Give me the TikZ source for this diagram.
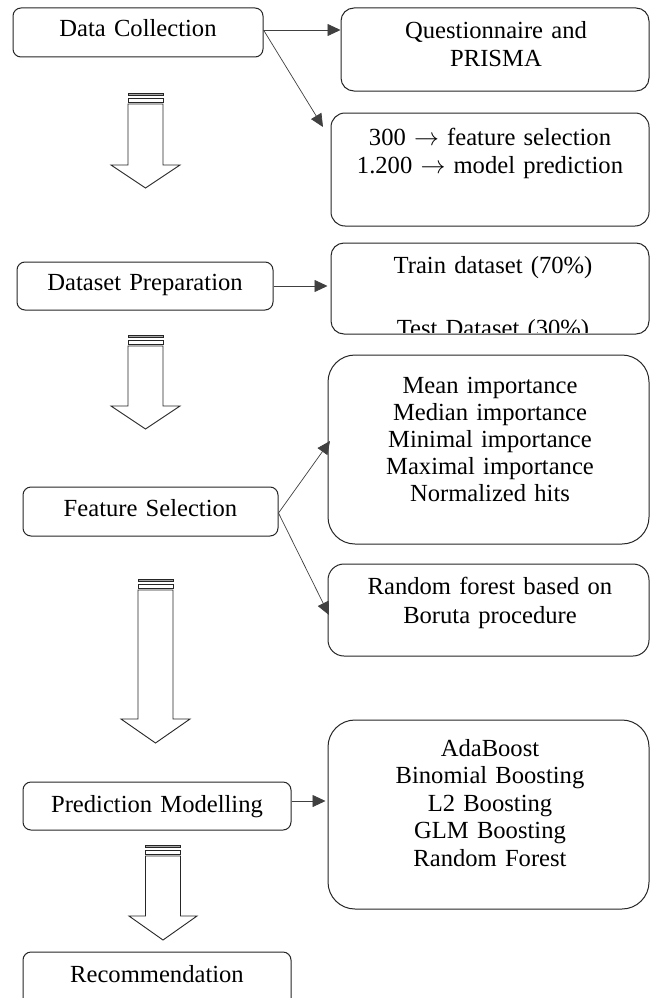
\documentclass[tikz,border=0pt]{standalone}
\usepackage{fontspec}
\setmainfont{Liberation Serif}
\usetikzlibrary{arrows.meta}
\tikzset{
  box/.style={draw=black!85, line width=1pt, fill=white, inner sep=0pt},
  txt/.style={anchor=base, align=center, inner sep=0pt, text width=#1,
              font=\fontsize{24.6}{27.4}\selectfont},
  txt/.default=310pt,
  conn/.style={draw=black!75, line width=0.7pt, -{Triangle[length=13pt,width=12pt]}},
  blk/.style={draw=black!85, line width=0.9pt, fill=white},
}
\newcommand\BlkArrow[5]{% cx, ytop, yhead, ytip, head half width
  \draw[blk, fill=black!35] (#1-17.5,#2) rectangle (#1+17.5,#2+2);
  \draw[blk] (#1-17.5,#2+5) rectangle (#1+17.5,#2+9);
  \draw[blk] (#1-17.5,#2+10.5) -- (#1-17.5,#3) -- (#1-#5,#3) -- (#1,#4)
     -- (#1+#5,#3) -- (#1+17.5,#3) -- (#1+17.5,#2+10.5) -- cycle;
}
\begin{document}
\begin{tikzpicture}[x=1pt,y=-1pt]
\clip (0,0) rectangle (650,998);
\fill[white] (0,0) rectangle (650,998);

% left column boxes
\node[box, rounded corners=8pt, minimum width=250pt, minimum height=49pt] (dc) at (138,32.5) {};
\node[box, rounded corners=8pt, minimum width=256pt, minimum height=48pt] (dp) at (145,286) {};
\node[box, rounded corners=8pt, minimum width=255pt, minimum height=49pt] (fs) at (150.5,511.5) {};
\node[box, rounded corners=8pt, minimum width=268pt, minimum height=48pt] (pm) at (157,806) {};
\node[box, rounded corners=8pt, minimum width=268pt, minimum height=58pt] (rec) at (157,981) {};

% right column boxes
\node[box, rounded corners=13pt, minimum width=308pt, minimum height=83pt] (q) at (495,49.5) {};
\node[box, rounded corners=14pt, minimum width=318pt, minimum height=113pt] (n300) at (490,169.5) {};
\node[box, rounded corners=13pt, minimum width=318pt, minimum height=91pt] (tr) at (490,288.5) {};
\node[box, rounded corners=27pt, minimum width=321pt, minimum height=189pt] (mean) at (488.5,449.5) {};
\node[box, rounded corners=16pt, minimum width=321pt, minimum height=92pt] (rf) at (488.5,610) {};
\node[box, rounded corners=27pt, minimum width=321pt, minimum height=189pt] (ada) at (488.5,814.5) {};

% texts
\node[txt=250pt] (dct) at (138,37) {Data Collection};
\node[txt=256pt] (dpt) at (145,290) {Dataset Preparation};
\node[txt=255pt] (fst) at (150.5,516) {Feature Selection};
\node[txt=268pt] (pmt) at (157,812.5) {Prediction Modelling};
\node[txt=268pt] (rect) at (157,982.5) {Recommendation};

\node[txt, font=\fontsize{24.6}{28}\selectfont] (qt) at (496,38.5) {Questionnaire and\\PRISMA};
\node[txt, font=\fontsize{24.6}{28}\selectfont] (n300t) at (490,145) {300 $\rightarrow$ feature selection\\1.200 $\rightarrow$ model prediction};
\begin{scope}
  \clip[rounded corners=12pt] (331.5,243.5) rectangle (648.5,332.5);
  \node[txt] (trt) at (493,273.5) {Train dataset (70\%)\\[35.5pt]Test Dataset (30\%)};
\end{scope}
\node[txt, font=\fontsize{24.6}{27.2}\selectfont] (meant) at (490,393) {Mean importance\\Median importance\\Minimal importance\\Maximal importance\\Normalized hits};
\node[txt, font=\fontsize{24.6}{29}\selectfont] (rft) at (490,594.5) {Random forest based on\\Boruta procedure};
\node[txt, font=\fontsize{24.6}{27.4}\selectfont] (adat) at (490,756.5) {AdaBoost\\Binomial Boosting\\L2 Boosting\\GLM Boosting\\Random Forest};

% block arrows
\BlkArrow{145.5}{93.5}{165}{188}{34.5}
\BlkArrow{145.5}{335.5}{406}{429}{34.5}
\BlkArrow{155.5}{579.5}{719}{743}{34.5}
\BlkArrow{163}{845.5}{916}{940}{34}

% connectors
\coordinate (t1) at (323,127);
\coordinate (t2) at (330,441);
\coordinate (t3) at (329,615);
\draw[conn] ([yshift=2.5pt]dc.east) -- ([yshift=2.5pt]dc.east -| q.west);
\draw[conn] ([yshift=2.5pt]dc.east) -- (t1);
\draw[conn, shorten >=3pt] (dp.east) -- (dp.east -| tr.west);
\draw[conn] ([yshift=-1.5pt]fs.east) -- (t2);
\draw[conn] ([yshift=-1.5pt]fs.east) -- (t3);
\draw[conn, shorten >=2pt] ([yshift=5pt]pm.east) -- ([yshift=5pt]pm.east -| ada.west);
\end{tikzpicture}
\end{document}
